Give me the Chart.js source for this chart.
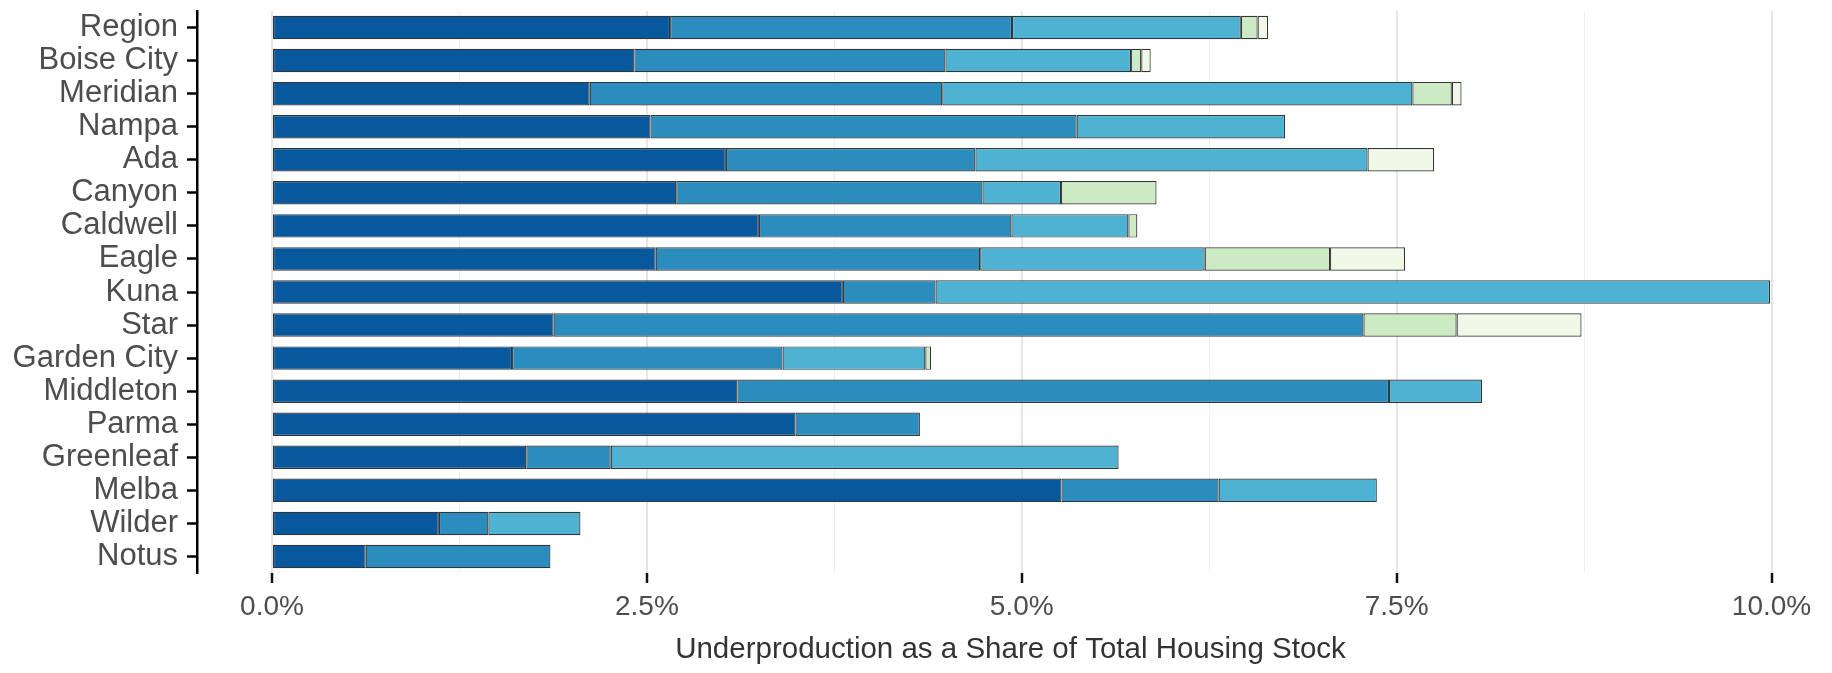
<!DOCTYPE html>
<html>
<head>
<meta charset="utf-8">
<script src="https://cdn.jsdelivr.net/npm/chart.js@4"></script>
<style>
  body { margin: 0; background: #fff; }
  #wrap { width: 1832px; height: 673px; }
</style>
</head>
<body>
<div id="wrap"><canvas id="shareChart"></canvas></div>
<script>
var places = ["Region", "Boise City", "Meridian", "Nampa", "Ada", "Canyon", "Caldwell", "Eagle",
  "Kuna", "Star", "Garden City", "Middleton", "Parma", "Greenleaf", "Melba", "Wilder", "Notus"];

// share of total housing stock (%), one array per stacked segment
var tier1 = [2.655, 2.417, 2.119, 2.524, 3.027, 2.696, 3.247, 2.559, 3.807, 1.878, 1.601, 3.104, 3.491, 1.696, 5.265, 1.113, 0.625];
var tier2 = [2.28, 2.074, 2.351, 2.842, 1.664, 2.042, 1.684, 2.164, 0.618, 5.401, 1.804, 4.345, 0.83, 0.563, 1.048, 0.33, 1.232];
var tier3 = [1.526, 1.238, 3.135, 1.39, 2.615, 0.524, 0.78, 1.497, 5.565, null, 0.952, 0.621, null, 3.387, 1.055, 0.614, null];
var tier4 = [0.112, 0.068, 0.263, null, null, 0.637, 0.06, 0.836, null, 0.621, 0.039, null, null, null, null, null, null];
var tier5 = [0.07, 0.063, 0.065, null, 0.444, null, null, 0.5, null, 0.833, null, null, null, null, null, null, null];

var xTicks = [0, 1.25, 2.5, 3.75, 5, 6.25, 7.5, 8.75, 10];

function seg(label, data, color) {
  return {
    label: label,
    data: data,
    backgroundColor: color,
    borderColor: '#353535',
    borderWidth: 1.2,
    borderSkipped: false,
    barPercentage: 0.71,
    categoryPercentage: 1.0
  };
}

var isMajor = function (v) { return Math.abs(v / 2.5 - Math.round(v / 2.5)) < 1e-6; };

var shareChart = new Chart(document.getElementById("shareChart"), {
  type: 'bar',
  data: {
    labels: places,
    datasets: [
      seg("Tier 1", tier1, '#08589e'),
      seg("Tier 2", tier2, '#2b8cbe'),
      seg("Tier 3", tier3, '#4eb3d3'),
      seg("Tier 4", tier4, '#ccebc5'),
      seg("Tier 5", tier5, '#f0f9e8')
    ]
  },
  options: {
    indexAxis: 'y',
    responsive: true,
    maintainAspectRatio: false,
    animation: false,
    events: [],
    layout: { padding: { top: 11, right: 8, bottom: 5, left: 0 } },
    plugins: {
      legend: { display: false },
      tooltip: { enabled: false }
    },
    scales: {
      x: {
        type: 'linear',
        stacked: true,
        min: -0.5,
        max: 10.35,
        afterBuildTicks: function (s) {
          s.ticks = xTicks.map(function (v) { return { value: v }; });
        },
        border: { display: false },
        grid: {
          color: function (c) { return c.tick && isMajor(c.tick.value) ? '#e6e6e6' : '#efefef'; },
          lineWidth: function (c) { return c.tick && isMajor(c.tick.value) ? 2 : 1; },
          drawTicks: true,
          tickLength: 10,
          tickWidth: 2.5,
          tickColor: function (c) { return c.tick && isMajor(c.tick.value) ? '#111' : 'rgba(0,0,0,0)'; }
        },
        ticks: {
          autoSkip: false,
          maxRotation: 0,
          padding: 7,
          color: '#4d4d4d',
          font: { family: 'Liberation Sans', size: 28 },
          callback: function (v) { return isMajor(v) ? v.toFixed(1) + '%' : ''; }
        },
        title: {
          display: true,
          text: 'Underproduction as a Share of Total Housing Stock',
          color: '#333333',
          font: { family: 'Liberation Sans', size: 29.5 },
          padding: { top: 2, bottom: 0 }
        }
      },
      y: {
        stacked: true,
        afterFit: function (s) {
          s.width = 197;
          s.paddingTop = 0;
          s.paddingBottom = 0;
        },
        border: { display: true, color: '#000', width: 2.5 },
        grid: {
          offset: false,
          drawOnChartArea: false,
          drawTicks: true,
          tickLength: 10,
          tickWidth: 2.5,
          tickColor: '#000'
        },
        ticks: {
          autoSkip: false,
          padding: 9,
          color: '#4d4d4d',
          font: { family: 'Liberation Sans', size: 31 }
        }
      }
    }
  }
});
</script>
</body>
</html>
